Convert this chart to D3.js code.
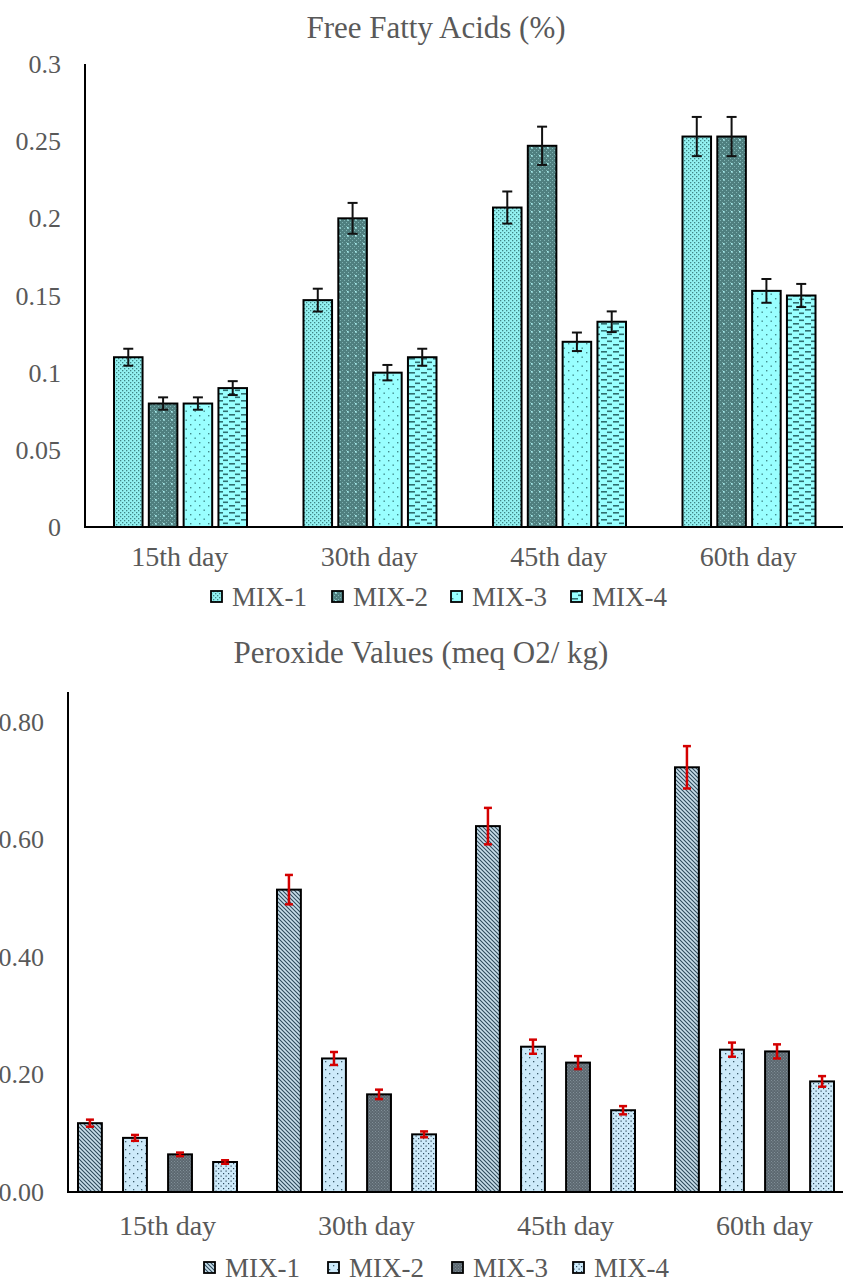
<!DOCTYPE html>
<html>
<head>
<meta charset="utf-8">
<script src="https://cdn.jsdelivr.net/npm/d3@7"></script>
<style>
  body { margin: 0; background: #fff; }
  svg { display: block; }
  svg text { fill: #595959; font-family: 'Liberation Serif', 'Times New Roman', Times, serif; }
</style>
</head>
<body>
<svg width="843" height="1281"></svg>
<script>
var days = ['15th day', '30th day', '45th day', '60th day'];
var mixes = ['MIX-1', 'MIX-2', 'MIX-3', 'MIX-4'];

// free fatty acids (%)
var ffaMix1 = [0.110, 0.147, 0.207, 0.253];
var ffaMix2 = [0.080, 0.200, 0.247, 0.253];
var ffaMix3 = [0.080, 0.100, 0.120, 0.153];
var ffaMix4 = [0.090, 0.110, 0.133, 0.150];
var ffaErr1 = [0.0055, 0.0074, 0.0104, 0.0127];
var ffaErr2 = [0.0040, 0.0100, 0.0124, 0.0127];
var ffaErr3 = [0.0040, 0.0050, 0.0060, 0.0077];
var ffaErr4 = [0.0045, 0.0055, 0.0067, 0.0075];
var ffaTicks = [0, 0.05, 0.1, 0.15, 0.2, 0.25, 0.3];

// peroxide values (meq O2/kg)
var pvMix1 = [0.117, 0.514, 0.622, 0.722];
var pvMix2 = [0.092, 0.227, 0.247, 0.242];
var pvMix3 = [0.064, 0.166, 0.220, 0.239];
var pvMix4 = [0.051, 0.098, 0.139, 0.188];
var pvErr1 = [0.006, 0.025, 0.031, 0.036];
var pvErr2 = [0.005, 0.011, 0.012, 0.012];
var pvErr3 = [0.003, 0.008, 0.011, 0.012];
var pvErr4 = [0.003, 0.005, 0.007, 0.009];
var pvTicks = [0, 0.2, 0.4, 0.6, 0.8];

var svg = d3.select('svg');
var defs = svg.append('defs');
var serif = "'Liberation Serif', 'Times New Roman', Times, serif";

// patterns ********************************************************
function pattern(id, w, h, bg, draw) {
    var p = defs.append('pattern')
        .attr('id', id)
        .attr('patternUnits', 'userSpaceOnUse')
        .attr('width', w)
        .attr('height', h);
    p.append('rect').attr('width', w).attr('height', h).attr('fill', bg);
    draw(p);
}

function dots(p, pts, r, color) {
    pts.forEach(function (d) {
        p.append('rect').attr('x', d[0]).attr('y', d[1]).attr('width', r).attr('height', r).attr('fill', color);
    });
}

pattern('f1', 4, 4, '#93f2f2', p => dots(p, [[0, 0], [2, 2]], 1.3, '#3f8585'));
pattern('f2', 8, 8, '#4f7f7f', p => {
    dots(p, [[0, 0], [2, 2], [4, 0], [6, 2], [0, 4], [2, 6], [4, 4], [6, 6]], 1, '#7fb3b3');
    dots(p, [[3, 3]], 1.6, '#a8eeee');
});
pattern('f3', 9, 9, '#99ffff', p => dots(p, [[1, 1], [5.5, 5.5]], 1.4, '#3f8a8a'));
pattern('f4', 12, 7, '#99ffff', p => {
    p.append('rect').attr('x', 1).attr('y', 1).attr('width', 6).attr('height', 1.6).attr('fill', '#2f6f70');
    p.append('rect').attr('x', 7).attr('y', 4.5).attr('width', 6).attr('height', 1.6).attr('fill', '#2f6f70');
});

pattern('p1', 4, 4, '#c9dfeb', p => {
    p.append('path').attr('d', 'M-1,-1 L5,5 M-1,3 L1,5 M3,-1 L5,1').attr('stroke', '#2e4a5c').attr('stroke-width', 1.1);
});
pattern('p2', 8, 8, '#cdeafa', p => dots(p, [[1, 1], [5, 5]], 1.3, '#3a5a6a'));
pattern('p3', 3, 3, '#5c6870', p => dots(p, [[0, 0], [1.5, 1.5]], 0.8, '#95a4ad'));
pattern('p4', 5, 5, '#cdeafa', p => dots(p, [[0.5, 0.5], [3, 3]], 1.2, '#2f4a5c'));

// chart ************************************************************
function drawChart(cfg) {
    var g = svg.append('g').attr('font-family', serif);
    var rows = cfg.series.map((vals, si) => vals.map((v, di) => ({
        mix: mixes[si], day: days[di], val: v, err: cfg.errors[si][di], si
    })));
    var flat = [].concat.apply([], rows);

    var y = d3.scaleLinear().domain(cfg.yDomain).range([cfg.bottom, cfg.top]);
    var x = d3.scaleBand().domain(days).range([cfg.left, cfg.left + cfg.band * days.length]);
    var inner = d3.scaleBand().domain(mixes).range(cfg.inner).paddingInner(cfg.pad);

    g.append('text')
        .attr('x', cfg.titleX).attr('y', cfg.titleY)
        .attr('text-anchor', 'middle')
        .style('font-size', '31px')
        .text(cfg.title);

    g.selectAll('.ytick')
        .data(cfg.ticks)
        .enter().append('text')
        .attr('x', cfg.left - 24)
        .attr('y', d => y(d))
        .attr('dy', '0.35em')
        .attr('text-anchor', 'end')
        .style('font-size', '26px')
        .text(cfg.fmt);

    g.selectAll('.bar')
        .data(flat)
        .enter().append('rect')
        .attr('x', d => x(d.day) + inner(d.mix))
        .attr('y', d => y(d.val))
        .attr('width', inner.bandwidth())
        .attr('height', d => y(0) - y(d.val))
        .attr('fill', d => `url(#${cfg.fills[d.si]})`)
        .attr('stroke', '#000')
        .attr('stroke-width', 2);

    var eb = g.selectAll('.err')
        .data(flat)
        .enter().append('g')
        .attr('stroke', cfg.errColor)
        .attr('stroke-width', cfg.errWidth);
    var cx = d => x(d.day) + inner(d.mix) + inner.bandwidth() / 2;
    eb.append('line')
        .attr('x1', cx).attr('x2', cx)
        .attr('y1', d => y(d.val + d.err)).attr('y2', d => y(d.val - d.err));
    [1, -1].forEach(s => {
        eb.append('line')
            .attr('x1', d => cx(d) - cfg.cap).attr('x2', d => cx(d) + cfg.cap)
            .attr('y1', d => y(d.val + s * d.err)).attr('y2', d => y(d.val + s * d.err));
    });

    // axes
    g.append('line')
        .attr('x1', cfg.left).attr('x2', cfg.left)
        .attr('y1', y(cfg.yDomain[1])).attr('y2', y(0))
        .attr('stroke', '#000').attr('stroke-width', 2);
    g.append('line')
        .attr('x1', cfg.left - 1).attr('x2', 843)
        .attr('y1', y(0)).attr('y2', y(0))
        .attr('stroke', '#000').attr('stroke-width', 2);

    g.selectAll('.xtick')
        .data(days)
        .enter().append('text')
        .attr('x', d => x(d) + x.bandwidth() / 2)
        .attr('y', cfg.xLabelY)
        .attr('text-anchor', 'middle')
        .style('font-size', '28px')
        .text(d => d);

    var leg = g.selectAll('.leg')
        .data(mixes)
        .enter().append('g')
        .attr('transform', (d, i) => `translate(${cfg.legendX[i]},${cfg.legendY})`);
    leg.append('rect')
        .attr('x', 0).attr('y', -6).attr('width', 11).attr('height', 11)
        .attr('fill', (d, i) => `url(#${cfg.fills[i]})`)
        .attr('stroke', '#000').attr('stroke-width', 1.8);
    leg.append('text')
        .attr('x', 21).attr('y', 0).attr('dy', '0.35em')
        .style('font-size', '27px')
        .text(d => d);
}

drawChart({
    title: 'Free Fatty Acids (%)', titleX: 436, titleY: 38,
    series: [ffaMix1, ffaMix2, ffaMix3, ffaMix4],
    errors: [ffaErr1, ffaErr2, ffaErr3, ffaErr4],
    ticks: ffaTicks, fmt: d => d === 0 ? '0' : String(d),
    yDomain: [0, 0.3], top: 64, bottom: 527,
    left: 85, band: 189.5, inner: [29, 162], pad: 0.18,
    fills: ['f1', 'f2', 'f3', 'f4'],
    errColor: '#111', errWidth: 2, cap: 5,
    xLabelY: 566,
    legendX: [211, 332, 451, 571], legendY: 597
});

drawChart({
    title: 'Peroxide Values (meq O2/ kg)', titleX: 421, titleY: 663,
    series: [pvMix1, pvMix2, pvMix3, pvMix4],
    errors: [pvErr1, pvErr2, pvErr3, pvErr4],
    ticks: pvTicks, fmt: d3.format('.2f'),
    yDomain: [0, 0.85], top: 692, bottom: 1192,
    left: 68, band: 199, inner: [10, 169], pad: 0.47,
    fills: ['p1', 'p2', 'p3', 'p4'],
    errColor: '#d40000', errWidth: 2.5, cap: 4,
    xLabelY: 1235,
    legendX: [204, 328, 452, 573], legendY: 1268
});
</script>
</body>
</html>
